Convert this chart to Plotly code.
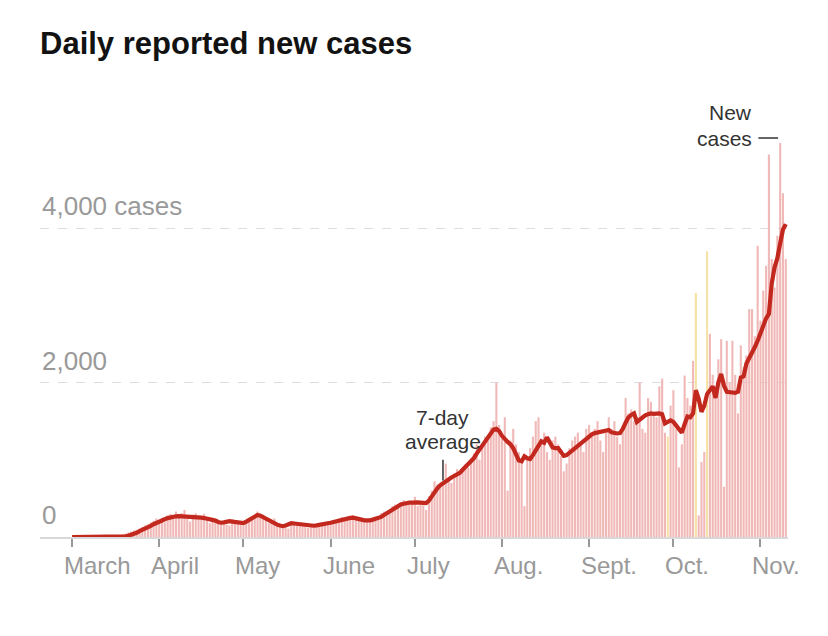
import plotly.graph_objects as go
import pandas as pd

# ---- data ----
start_date = "2020-03-01"
end_date = "2020-11-10"

cases_mar = [0] * 10 + [1, 2, 4, 6, 10, 14, 20, 28, 36, 45, 60, 70, 85, 95, 110, 130, 150, 165, 190, 210, 240]
cases_apr = [220, 250, 190, 280, 300, 260, 330, 280, 310, 350, 240, 200, 290, 310, 260, 270, 300, 220, 180, 250,
             230, 190, 170, 210, 160, 150, 230, 220, 190, 180]
cases_may = [150, 200, 210, 250, 280, 330, 300, 290, 220, 180, 200, 240, 160, 130, 150, 120, 110, 170, 200, 190,
             160, 180, 140, 120, 150, 170, 160, 130, 180, 190, 170]
cases_jun = [200, 210, 190, 240, 260, 250, 220, 270, 280, 230, 260, 200, 190, 230, 210, 240, 260, 250, 310, 330,
             280, 350, 400, 420, 380, 450, 480, 430, 420, 470]
cases_jul = [520, 400, 460, 410, 350, 530, 600, 720, 680, 640, 700, 950, 760, 700, 820, 880, 810, 860, 940, 900,
             1020, 1080, 1200, 1000, 1150, 1300, 1250, 1420, 1500, 2000, 1450]
cases_aug = [1300, 1550, 600, 1250, 1400, 1200, 1100, 1000, 400, 1050, 1150, 1300, 1500, 1550, 1200, 1350, 1100,
             1000, 1250, 1300, 1200, 1050, 850, 950, 1150, 1250, 1300, 1350, 1200, 1100, 1400]
cases_sep = [1450, 1300, 1400, 1500, 1250, 1100, 1350, 1550, 1400, 1500, 1300, 1200, 1450, 1800, 1600, 1650, 1500,
             1550, 2000, 1400, 1350, 1800, 1750, 1600, 1550, 1950, 2050, 1350, 1300, 1700]
cases_oct = [1900, 1400, 900, 1200, 2090, 1800, 1700, 2280, 3160, 280, 970, 1100, 3700, 2630, 2100, 1950, 2300, 2560,
             650, 2540, 2000, 2540, 2100, 1600, 2480, 2200, 2350, 2950, 2950, 2600, 3770]
cases_nov = [2800, 3190, 3510, 4950, 3600, 3230, 3900, 5100, 4450, 3600]

avg_mar = [0] * 17 + [2, 5, 8] + [15, 25, 40, 55, 75, 90, 105, 125, 145, 165, 185]
avg_apr = [200, 215, 230, 245, 255, 262, 268, 270, 268, 270, 272, 268, 265, 262, 255, 250, 245, 240, 235, 230,
           212, 195, 185, 190, 198, 205, 200, 195, 190, 185]
avg_may = [180, 200, 225, 250, 270, 285, 275, 255, 235, 210, 190, 175, 160, 148, 140, 150, 165, 178, 175, 170,
           168, 165, 160, 155, 150, 146, 150, 160, 165, 170, 178]
avg_jun = [185, 195, 205, 218, 228, 235, 245, 248, 250, 245, 238, 225, 215, 210, 215, 225, 235, 245, 260, 285,
           310, 335, 360, 385, 405, 420, 430, 440, 445, 445]
avg_jul = [450, 448, 445, 442, 440, 470, 530, 590, 630, 670, 700, 725, 745, 770, 790, 800, 830, 870, 910, 940,
           970, 1020, 1080, 1130, 1180, 1230, 1290, 1350, 1390, 1400, 1370]
avg_aug = [1310, 1260, 1230, 1200, 1150, 1070, 990, 980, 1045, 1020, 1010, 1060, 1110, 1180, 1240, 1220, 1290,
           1230, 1160, 1150, 1150, 1100, 1050, 1060, 1090, 1120, 1150, 1180, 1210, 1250, 1285]
avg_sep = [1315, 1330, 1345, 1355, 1360, 1370, 1380, 1385, 1355, 1345, 1340, 1345, 1400, 1480, 1550, 1580, 1600,
           1490, 1520, 1555, 1575, 1590, 1600, 1595, 1600, 1600, 1590, 1470, 1490, 1510]
avg_oct = [1490, 1440, 1390, 1350, 1460, 1560, 1550, 1600, 1900, 1790, 1620, 1700, 1850, 1900, 1950, 1800, 2000,
           2110, 1960, 1880, 1870, 1870, 1865, 1880, 2065, 2080, 2245, 2310, 2380, 2460, 2540]
avg_nov = [2650, 2760, 2830, 2890, 3280, 3490, 3610, 3800, 3980, 4050]

flagged_dates = ["2020-09-29", "2020-10-09", "2020-10-13"]

tick_dates = ["2020-03-01", "2020-04-01", "2020-05-01", "2020-06-01", "2020-07-01",
              "2020-08-01", "2020-09-01", "2020-10-01", "2020-11-01"]
tick_labels = ["March", "April", "May", "June", "July", "Aug.", "Sept.", "Oct.", "Nov."]

grid_values = [2000, 4000]
grid_labels = ["4,000 cases", "2,000", "0"]
label_values = [4000, 2000, 0]

# ---- build ----
dates = pd.date_range(start_date, end_date, freq="D")
cases = (cases_mar + cases_apr + cases_may + cases_jun + cases_jul + cases_aug
         + cases_sep + cases_oct + cases_nov)
avg = (avg_mar + avg_apr + avg_may + avg_jun + avg_jul + avg_aug
       + avg_sep + avg_oct + avg_nov)

PINK = "#f0b9b7"
YELLOW = "#f6e2a6"
RED = "#c3281f"
GRAY = "#999999"
DARK = "#333333"
FONT = "Liberation Sans, Arial, sans-serif"

flag_set = set(pd.to_datetime(flagged_dates))
colors = [YELLOW if d in flag_set else PINK for d in dates]

fig = go.Figure()
fig.add_trace(go.Bar(x=dates, y=cases, marker=dict(color=colors, line=dict(width=0)),
                     hoverinfo="skip"))
fig.add_trace(go.Scatter(x=dates, y=avg, mode="lines",
                         line=dict(color=RED, width=4.2), hoverinfo="skip"))

annotations = []
# y-axis labels sitting above the gridlines
for txt, v in zip(grid_labels, label_values):
    annotations.append(dict(text=txt, xref="paper", x=0, xanchor="left",
                            yref="y", y=v, yanchor="bottom", yshift=5,
                            showarrow=False, font=dict(family=FONT, size=26, color=GRAY)))
# x-axis month labels, starting just left of each tick
for d, txt in zip(tick_dates, tick_labels):
    annotations.append(dict(text=txt, xref="x", x=d, xanchor="left", xshift=-10,
                            yref="paper", y=0, yanchor="top", yshift=-13,
                            showarrow=False, font=dict(family=FONT, size=24, color=GRAY)))

# callouts (one annotation per text line, tight line spacing)
callout_font = dict(family=FONT, size=21, color=DARK)
annotations += [
    dict(text="7-day", xref="x", x="2020-07-11", xanchor="center", yref="y", y=1553,
         yanchor="middle", showarrow=False, borderpad=0, font=callout_font),
    dict(text="average", xref="x", x="2020-07-11", xanchor="center", yref="y", y=1230,
         yanchor="middle", showarrow=False, borderpad=0, font=callout_font),
    dict(text="New", xref="x", x="2020-10-29 12:00", xanchor="right", yref="y", y=5489,
         yanchor="middle", showarrow=False, borderpad=0, font=callout_font),
    dict(text="cases", xref="x", x="2020-10-29 12:00", xanchor="right", yref="y", y=5165,
         yanchor="middle", showarrow=False, borderpad=0, font=callout_font),
]

shapes = [
    dict(type="line", xref="x", yref="y", x0="2020-07-11", x1="2020-07-11", y0=730, y1=1000,
         line=dict(color=DARK, width=1.5)),
    dict(type="line", xref="x", yref="y", x0="2020-10-31 06:00", x1="2020-11-07 06:00",
         y0=5165, y1=5165, line=dict(color=DARK, width=1.5)),
]

fig.update_layout(
    width=828, height=636,
    margin=dict(l=40, r=40, t=100, b=99),
    paper_bgcolor="white", plot_bgcolor="white",
    showlegend=False, bargap=0.25,
    title=dict(text="<b>Daily reported new cases</b>", x=40 / 828, xanchor="left",
               y=1 - 43 / 636, yanchor="middle",
               font=dict(family=FONT, size=31, color="#121212")),
    annotations=annotations, shapes=shapes,
    xaxis=dict(type="date", range=["2020-02-18 14:00", "2020-11-10 19:00"],
               tickvals=tick_dates, showticklabels=False,
               ticks="outside", ticklen=8, tickwidth=2, tickcolor=GRAY,
               showgrid=False, showline=True, linecolor="#d8d8d8", linewidth=1.5,
               zeroline=False, fixedrange=True),
    yaxis=dict(range=[0, 5657], tickvals=grid_values, showticklabels=False,
               showgrid=True, gridcolor="#dddddd", griddash="dash", gridwidth=1,
               zeroline=False, showline=False, fixedrange=True),
)

fig.write_html("out.html")
